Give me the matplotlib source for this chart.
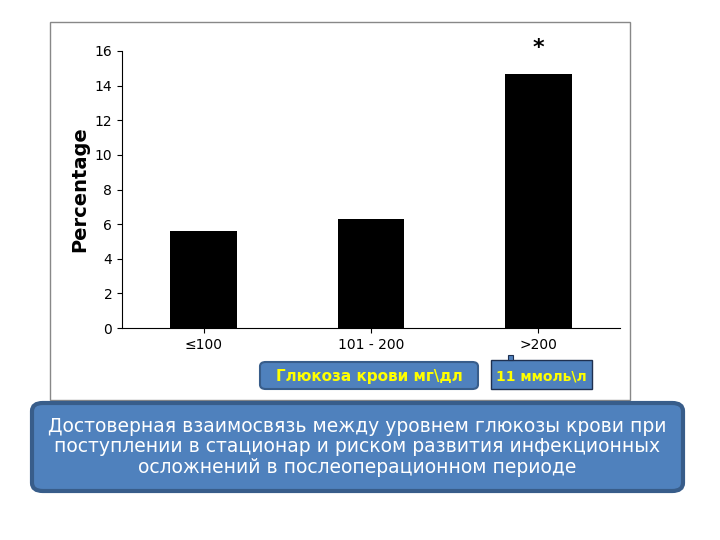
import matplotlib.pyplot as plt
from matplotlib.patches import FancyBboxPatch, Rectangle

categories = ["≤100", "101 - 200", ">200"]
values = [5.6, 6.3, 14.7]

fig = plt.figure(figsize=(7.2, 5.4), dpi=100)
plt.rcParams['font.family'] = ['DejaVu Sans']

# outer frame
fig.patches.append(Rectangle((50/720, 1-400/540), 580/720, 378/540, transform=fig.transFigure,
                             fill=False, edgecolor='#888888', lw=1))

ax = fig.add_axes([122/720, 1-328/540, 498/720, 277/540])
ax.bar(range(3), values, width=0.4, color='black')
ax.set_xlim(-0.49, 2.49)
ax.set_ylim(0, 16)
ax.set_yticks(range(0, 17, 2))
ax.set_xticks(range(3))
ax.set_xticklabels(categories, fontsize=10)
ax.tick_params(axis='y', labelsize=10)
ax.spines['top'].set_visible(False)
ax.spines['right'].set_visible(False)
ax.set_ylabel("Percentage", fontsize=14, fontweight='bold')
ax.text(2, 15.6, "*", ha='center', va='bottom', fontsize=16, fontweight='bold')

# label boxes
fig.patches.append(FancyBboxPatch((260/720, 1-389/540), 218/720, 27/540, boxstyle="round,pad=0,rounding_size=0.008",
                                  transform=fig.transFigure, facecolor='#4f81bd', edgecolor='#385d8a', lw=1.5))
fig.text(369/720, 1-376/540, "Глюкоза крови мг\\дл", ha='center', va='center', color='#ffff00',
         fontsize=11, fontweight='bold')
fig.patches.append(Rectangle((491/720, 1-389/540), 101/720, 29/540, transform=fig.transFigure,
                             facecolor='#4f81bd', edgecolor='#1f3050', lw=1))
fig.patches.append(Rectangle((508/720, 1-360/540), 5/720, 5/540, transform=fig.transFigure,
                             facecolor='#4f81bd', edgecolor='#1f3050', lw=0.8))
fig.text(541/720, 1-376/540, "11 ммоль\\л", ha='center', va='center', color='#ffff00',
         fontsize=10, fontweight='bold')

# bottom caption box
fig.patches.append(FancyBboxPatch((32/720, 1-491/540), 651/720, 88/540, boxstyle="round,pad=0,rounding_size=0.015",
                                  transform=fig.transFigure, facecolor='#4f81bd', edgecolor='#385d8a', lw=3))
fig.text(357/720, 1-447/540,
         "Достоверная взаимосвязь между уровнем глюкозы крови при\n"
         "поступлении в стационар и риском развития инфекционных\n"
         "осложнений в послеоперационном периоде",
         ha='center', va='center', color='white', fontsize=13.5, linespacing=1.1)

fig.savefig("out.png", dpi=100)
